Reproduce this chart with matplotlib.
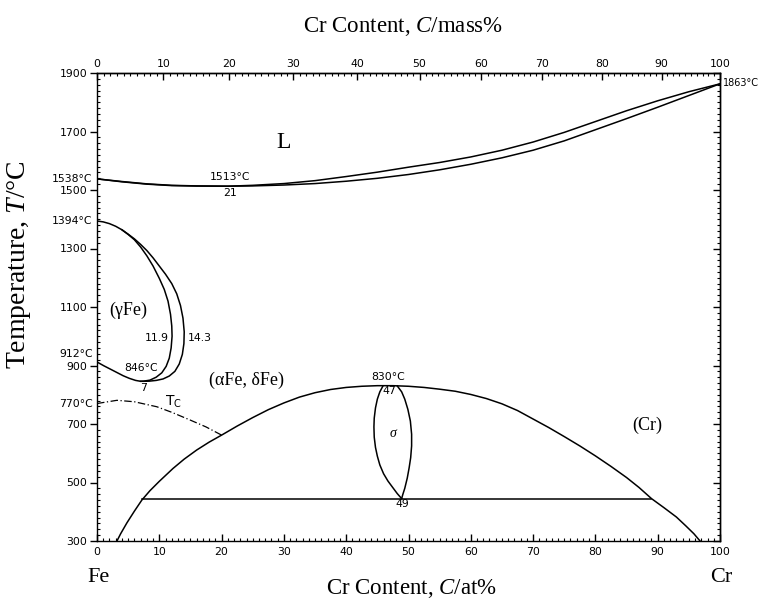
import numpy as np
import matplotlib
matplotlib.use('Agg')
import matplotlib.pyplot as plt
from matplotlib.ticker import MultipleLocator, FixedLocator

plt.rcParams['mathtext.fontset'] = 'custom'
plt.rcParams['mathtext.rm'] = 'Liberation Serif'
plt.rcParams['mathtext.it'] = 'Liberation Serif:italic'
plt.rcParams['font.family'] = ['DejaVu Sans']

# ---------------- data (x in at% Cr, T in deg C) ----------------
liq_x = [0, 4, 8, 12, 16, 21, 25, 30, 35, 40, 45, 50, 55, 60, 65, 70, 75, 80, 85, 90, 95, 100]
liq_T = [1538, 1529, 1521, 1516, 1514, 1513, 1516, 1522, 1532, 1546, 1561, 1578, 1594, 1613, 1636,
         1664, 1697, 1734, 1771, 1805, 1836, 1863]
sol_x = [0, 4, 8, 12, 16, 21, 25, 30, 35, 40, 45, 50, 55, 60, 65, 70, 75, 80, 85, 90, 95, 100]
sol_T = [1538, 1528, 1520, 1515, 1513.5, 1513, 1514, 1517, 1522, 1530, 1540, 1553, 1569, 1588, 1610,
         1636, 1668, 1706, 1744, 1783, 1823, 1863]

gam_in_x = [0, 1, 2, 3, 4, 5, 6, 7, 8, 9, 10, 10.8, 11.4, 11.8, 12.0, 12.05, 11.9, 11.6, 11.1,
            10.4, 9.5, 8.5, 7.5, 7.0, 6.2, 5.2, 4.2, 3.2, 2.2, 1.1, 0]
gam_in_T = [1394, 1391, 1385, 1376, 1364, 1348, 1330, 1305, 1275, 1240, 1198, 1160, 1120, 1075,
            1035, 1000, 960, 925, 897, 875, 860, 850, 846.5, 846, 849, 856, 865, 876, 887, 899, 912]
gam_out_x = [4, 5, 6, 7, 8, 9, 10, 11, 12, 12.8, 13.4, 13.8, 14.0, 13.95, 13.7, 13.2, 12.5, 11.6,
             10.6, 9.5, 8.4, 7.5, 7.0]
gam_out_T = [1364, 1349, 1333, 1314, 1293, 1268, 1240, 1212, 1180, 1145, 1105, 1062, 1015, 975,
             938, 905, 880, 864, 854, 849, 846.5, 846, 846]

dome_x = [3.2, 3.8, 4.8, 6, 7.2, 8.5, 10, 12.2, 14, 16, 18, 20, 22.5, 25, 27.5, 30, 32.5, 35, 37.5,
          40, 42.5, 45, 47.5, 50, 52.5, 55, 57.5, 60, 62.5, 65, 67.5, 70, 72.5, 75, 77.5, 80, 82.5,
          85, 87, 89, 91, 93, 94.5, 95.8, 96.8]
dome_T = [300, 325, 362, 402, 440, 472, 504, 548, 580, 611, 638, 662, 693, 722, 749, 772, 792, 807,
          818, 825, 829, 831, 831, 829, 825, 819, 812, 801, 787, 769, 746, 717, 688, 657, 625, 591,
          555, 517, 483, 445, 414, 382, 352, 325, 300]

sig_left_x = [45.9, 45.4, 45.0, 44.7, 44.5, 44.45, 44.5, 44.7, 45.0, 45.4, 46.0, 46.7, 47.5, 48.2, 48.9]
sig_left_T = [830, 810, 785, 755, 720, 690, 655, 620, 590, 560, 530, 505, 482, 462, 445]
sig_right_x = [48.2, 48.9, 49.4, 49.9, 50.3, 50.5, 50.5, 50.35, 50.1, 49.8, 49.4, 49.1, 48.9]
sig_right_T = [830, 810, 785, 750, 710, 665, 625, 585, 550, 515, 480, 460, 445]

eut_x = [7.2, 89.0]
eut_T = [445, 445]

tc_x = [0, 3.2, 6, 9.6, 12, 14.9, 17.5, 20]
tc_T = [770, 781, 776, 759, 740, 714, 690, 662]

bottom_ticks = list(range(0, 101, 10))
top_ticks = list(range(0, 101, 10))
left_ticks = [300, 500, 700, 900, 1100, 1300, 1500, 1700, 1900]

M_CR, M_FE = 51.996, 55.845


def at2mass(a):
    a = np.asarray(a, dtype=float)
    return 100 * a * M_CR / (a * M_CR + (100 - a) * M_FE)


def mass2at(w):
    w = np.asarray(w, dtype=float)
    return 100 * (w / M_CR) / (w / M_CR + (100 - w) / M_FE)


# ---------------- figure ----------------
W, H = 761, 603
fig = plt.figure(figsize=(W / 100, H / 100), dpi=100)
ax = fig.add_axes([97 / W, 1 - 541 / H, 623 / W, 468 / H])
ax.set_xlim(0, 100)
ax.set_ylim(300, 1900)

lw = 1.1
k = 'black'
ax.plot(liq_x, liq_T, color=k, lw=lw)
ax.plot(sol_x, sol_T, color=k, lw=lw)
ax.plot(gam_in_x, gam_in_T, color=k, lw=lw)
ax.plot(gam_out_x, gam_out_T, color=k, lw=lw)
ax.plot(dome_x, dome_T, color=k, lw=lw)
ax.plot(sig_left_x, sig_left_T, color=k, lw=lw)
ax.plot(sig_right_x, sig_right_T, color=k, lw=lw)
ax.plot(eut_x, eut_T, color=k, lw=lw)
ax.plot(tc_x, tc_T, color=k, lw=0.9, linestyle=(0, (6, 2, 1, 2)))

for s in ax.spines.values():
    s.set_linewidth(1.0)

tfs = 7.8
ax.set_xticks(bottom_ticks)
ax.xaxis.set_minor_locator(MultipleLocator(1))
ax.set_yticks(left_ticks)
ax.yaxis.set_minor_locator(MultipleLocator(20))
ax.tick_params(axis='x', which='major', direction='in', length=5, width=1, labelsize=tfs, pad=4)
ax.tick_params(axis='x', which='minor', direction='in', length=2, width=0.8)
ax.tick_params(axis='y', which='major', direction='out', length=5, width=1, labelsize=tfs, pad=2)
ax.tick_params(axis='y', which='minor', direction='in', length=2, width=0.8)

secy = ax.secondary_yaxis('right')
secy.set_yticks(left_ticks)
secy.yaxis.set_minor_locator(MultipleLocator(20))
secy.tick_params(axis='y', which='major', direction='in', length=5, width=1, labelright=False)
secy.tick_params(axis='y', which='minor', direction='in', length=2, width=0.8)
secy.spines['right'].set_linewidth(1.0)

sec = ax.secondary_xaxis('top', functions=(at2mass, mass2at))
sec.set_xticks(top_ticks)
sec.xaxis.set_minor_locator(FixedLocator(np.arange(0, 101, 1)))
sec.tick_params(axis='x', which='major', direction='in', length=5, width=1, labelsize=tfs, pad=3)
sec.tick_params(axis='x', which='minor', direction='in', length=2, width=0.8)
sec.spines['top'].set_linewidth(1.0)

serif = ['Liberation Serif', 'DejaVu Serif']
fig.text(403 / W, 1 - 27 / H, 'Cr Content, $\\mathit{C}$/mass%', fontsize=16.5, family=serif,
         ha='center', va='center')
fig.text(411 / W, 1 - 589 / H, 'Cr Content, $\\mathit{C}$/at%', fontsize=16.5, family=serif,
         ha='center', va='center')
fig.text(19 / W, 1 - 265 / H, 'Temperature, $\\mathit{T}$/°C', fontsize=20, family=serif,
         ha='center', va='center', rotation=90)

# outside temperature labels
sfs = 7.8
ax.text(-0.7, 1538, '1538°C', ha='right', va='center', fontsize=sfs, clip_on=False)
ax.text(-0.7, 1394, '1394°C', ha='right', va='center', fontsize=sfs, clip_on=False)
ax.text(-0.7, 940, '912°C', ha='right', va='center', fontsize=sfs, clip_on=False)
ax.text(-0.7, 770, '770°C', ha='right', va='center', fontsize=sfs, clip_on=False)
fig.text(722.5 / W, 1 - 83 / H, '1863°C', ha='left', va='center', fontsize=7.0)

# inside labels
ax.text(29.9, 1664, 'L', ha='center', va='center', fontsize=17, family=serif)
ax.text(21.3, 1544, '1513°C', ha='center', va='center', fontsize=sfs)
ax.text(21.3, 1490, '21', ha='center', va='center', fontsize=sfs)
ax.text(5.0, 1090, '(γFe)', ha='center', va='center', fontsize=13, family=serif)
ax.text(11.5, 994, '11.9', ha='right', va='center', fontsize=sfs)
ax.text(14.5, 994, '14.3', ha='left', va='center', fontsize=sfs)
ax.text(7.0, 892, '846°C', ha='center', va='center', fontsize=sfs)
ax.text(7.4, 823, '7', ha='center', va='center', fontsize=sfs)
ax.text(24.0, 850, '(αFe, δFe)', ha='center', va='center', fontsize=13, family=serif)
ax.text(12.3, 777, '$\\mathregular{T_C}$', ha='center', va='center', fontsize=10)
ax.text(46.8, 862, '830°C', ha='center', va='center', fontsize=sfs)
ax.text(47.0, 813, '47', ha='center', va='center', fontsize=sfs)
ax.text(47.5, 669, 'σ', ha='center', va='center', fontsize=10, family=serif, style='italic')
ax.text(49.0, 427, '49', ha='center', va='center', fontsize=sfs)
ax.text(88.4, 697, '(Cr)', ha='center', va='center', fontsize=13, family=serif)

fig.text(98 / W, 1 - 577 / H, 'Fe', ha='center', va='center', fontsize=16, family=serif)
fig.text(721 / W, 1 - 577 / H, 'Cr', ha='center', va='center', fontsize=16, family=serif)

fig.savefig('out.png', dpi=100)
